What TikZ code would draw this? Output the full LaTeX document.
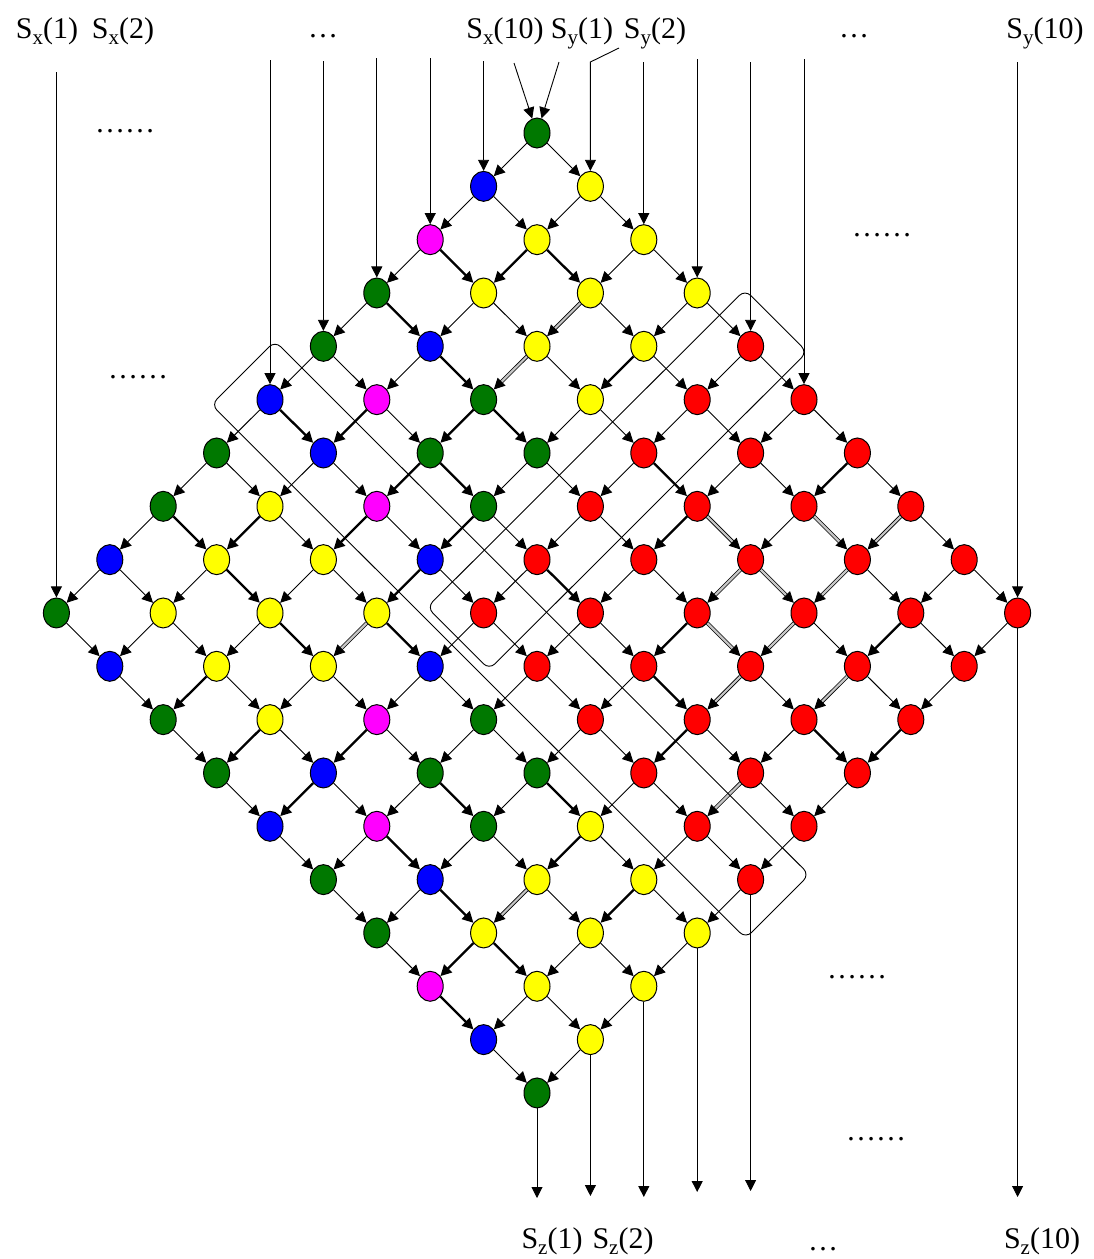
\documentclass[tikz,border=0pt]{standalone}
\usepackage{fontspec}
\setmainfont{Liberation Serif}
\usetikzlibrary{shapes.geometric,arrows.meta,calc}
\definecolor{cG}{RGB}{0,120,0}
\definecolor{cB}{RGB}{0,0,255}
\definecolor{cY}{RGB}{255,255,0}
\definecolor{cM}{RGB}{255,0,255}
\definecolor{cR}{RGB}{255,0,0}
\newcommand{\Slab}[2]{S\raisebox{-0.22em}{\fontsize{21}{21}\selectfont #1}(#2)}
\begin{document}
\begin{tikzpicture}[x=1pt,y=-1pt,
  pe/.style={ellipse,draw=black,line width=1pt,minimum width=26pt,minimum height=30pt,inner sep=0pt},
  ln/.style={draw=black,line width=0.9pt,-{Triangle[length=11pt,width=11pt]}},
  tkw/.style={line width=2.3pt},
  dbw/.style={double=gray!45,double distance=2.2pt,line width=0.8pt},
  frame/.style={draw=black,line width=0.9pt,rounded corners=8pt},
  lab/.style={font=\fontsize{30}{32}\selectfont,anchor=base,inner sep=0pt},
  dots/.style={font=\fontsize{30}{32}\selectfont,anchor=base,inner sep=0pt},
  % thick / double edges going down-right (i,j)->(i,j+1)
  dr20/.style={tkw},dr11/.style={tkw},dr30/.style={tkw},dr31/.style={tkw},
  dr50/.style={tkw},dr42/.style={tkw},dr32/.style={tkw},dr70/.style={tkw},
  dr71/.style={tkw},dr72/.style={tkw},dr63/.style={tkw},dr24/.style={tkw},
  dr44/.style={tkw},dr46/.style={tkw},dr38/.style={tkw},dr75/.style={tkw},
  dr66/.style={tkw},dr85/.style={tkw},dr86/.style={tkw},dr87/.style={tkw},
  dr97/.style={tkw},
  dr25/.style={dbw},dr16/.style={dbw},dr26/.style={dbw},dr36/.style={dbw},
  % thick / double edges going down-left (i,j)->(i+1,j)
  dl11/.style={tkw},dl13/.style={tkw},dl32/.style={tkw},dl41/.style={tkw},
  dl42/.style={tkw},dl61/.style={tkw},dl52/.style={tkw},dl43/.style={tkw},
  dl53/.style={tkw},dl82/.style={tkw},dl83/.style={tkw},dl74/.style={tkw},
  dl84/.style={tkw},dl67/.style={tkw},dl87/.style={tkw},dl68/.style={tkw},
  dl25/.style={tkw},dl06/.style={tkw},dl36/.style={tkw},dl18/.style={tkw},
  dl47/.style={tkw},dl29/.style={tkw},
  dl12/.style={dbw},dl22/.style={dbw},dl63/.style={dbw},dl77/.style={dbw},
  dl07/.style={dbw},dl26/.style={dbw},dl17/.style={dbw},dl27/.style={dbw},
  dl37/.style={dbw},dl28/.style={dbw},dl48/.style={dbw}]

\useasboundingbox (0,0) rectangle (1093,1259);

% processing elements
\foreach \row [count=\i from 0] in {
  {G,Y,Y,Y,R,R,R,R,R,R},
  {B,Y,Y,Y,R,R,R,R,R,R},
  {M,Y,Y,Y,R,R,R,R,R,R},
  {G,B,G,G,R,R,R,R,R,R},
  {G,M,G,G,R,R,R,R,R,R},
  {B,B,M,B,R,R,R,R,R,R},
  {G,Y,Y,Y,B,G,G,Y,Y,Y},
  {G,Y,Y,Y,M,G,G,Y,Y,Y},
  {B,Y,Y,Y,B,M,B,Y,Y,Y},
  {G,B,G,G,B,G,G,M,B,G}} {
  \foreach \c [count=\j from 0] in \row {
    \node[pe,fill=c\c] (n\i\j) at ({537+53.4*(\j-\i)},{133+53.33*(\i+\j)}) {};
  }
}

% grid connectors
\foreach \i in {0,...,9}{
  \foreach \j in {0,...,9}{
    \ifnum\j<9
      \pgfmathtruncatemacro\jb{\j+1}
      \draw[ln,dr\i\j/.try] (n\i\j) -- (n\i\jb);
    \fi
    \ifnum\i<9
      \pgfmathtruncatemacro\ia{\i+1}
      \draw[ln,dl\i\j/.try] (n\i\j) -- (n\ia\j);
    \fi
  }
}

% grouping frames
\coordinate (a1) at ($(n50)!-38pt!(n59)$);
\coordinate (a2) at ($(n59)!-38pt!(n50)$);
\draw[frame] ($(a1)!45pt!90:(a2)$) -- ($(a2)!45pt!-90:(a1)$) -- ($(a2)!45pt!90:(a1)$) -- ($(a1)!45pt!-90:(a2)$) -- cycle;
\coordinate (b1) at ($(n04)!-36pt!(n54)$);
\coordinate (b2) at ($(n54)!-36pt!(n04)$);
\draw[frame] ($(b1)!44pt!90:(b2)$) -- ($(b2)!44pt!-90:(b1)$) -- ($(b2)!44pt!90:(b1)$) -- ($(b1)!44pt!-90:(b2)$) -- cycle;

% inputs S_x
\coordinate (ix1) at (n90 |- 0,72);
\coordinate (ix5) at (n50 |- 0,60);
\coordinate (ix6) at (n40 |- 0,61);
\coordinate (ix7) at (n30 |- 0,58);
\coordinate (ix8) at (n20 |- 0,58);
\coordinate (ix9) at (n10 |- 0,61);
\coordinate (ix10) at (514,63);
\foreach \s/\t in {ix1/n90,ix5/n50,ix6/n40,ix7/n30,ix8/n20,ix9/n10,ix10/n00}
  \draw[ln] (\s) -- (\t);

% inputs S_y
\coordinate (iy1) at (559,62);
\coordinate (iy2a) at (619,48);
\coordinate (iy2b) at (n01 |- 0,62);
\coordinate (iy3) at (n02 |- 0,62);
\coordinate (iy4) at (n03 |- 0,59);
\coordinate (iy5) at (n04 |- 0,62);
\coordinate (iy6) at (n05 |- 0,59);
\coordinate (iy10) at (n09 |- 0,62);
\draw[ln] (iy1) -- (n00);
\draw[ln] (iy2a) -- (iy2b) -- (n01);
\foreach \s/\t in {iy3/n02,iy4/n03,iy5/n04,iy6/n05,iy10/n09}
  \draw[ln] (\s) -- (\t);

% outputs S_z
\coordinate (oz1) at (n99 |- 0,1198);
\coordinate (oz2) at (n89 |- 0,1196);
\coordinate (oz3) at (n79 |- 0,1197);
\coordinate (oz4) at (n69 |- 0,1192);
\coordinate (oz5) at (n59 |- 0,1191);
\coordinate (oz10) at (n09 |- 0,1197);
\foreach \s/\t in {n99/oz1,n89/oz2,n79/oz3,n69/oz4,n59/oz5,n09/oz10}
  \draw[ln] (\s) -- (\t);

% labels
\node[lab] (lx1) at (47,38) {\Slab{x}{1}};
\node[lab] (lx2) at (123,38) {\Slab{x}{2}};
\node[lab] (lxd) at (323,37) {…};
\node[lab] (lx10) at (505,38) {\Slab{x}{10}};
\node[lab] (ly1) at (582,38) {\Slab{y}{1}};
\node[lab] (ly2) at (655,38) {\Slab{y}{2}};
\node[lab] (lyd) at (854,37) {…};
\node[lab] (ly10) at (1045,38) {\Slab{y}{10}};
\node[lab] (lz1) at (552,1248) {\Slab{z}{1}};
\node[lab] (lz2) at (623,1248) {\Slab{z}{2}};
\node[lab] (lzd) at (823,1250) {…};
\node[lab] (lz10) at (1042,1248) {\Slab{z}{10}};

% ellipses
\node[dots] (d1) at (125,132) {……};
\node[dots] (d2) at (138,378) {……};
\node[dots] (d3) at (882,236) {……};
\node[dots] (d4) at (857,978) {……};
\node[dots] (d5) at (876,1140) {……};
\end{tikzpicture}
\end{document}
